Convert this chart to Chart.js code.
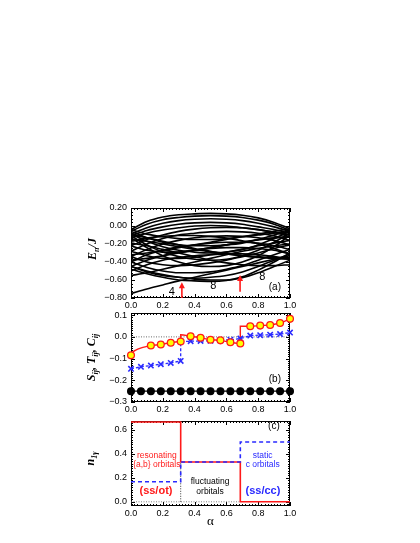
<!DOCTYPE html>
<html><head><meta charset="utf-8">
<script src="https://cdn.jsdelivr.net/npm/chart.js@4.4.0/dist/chart.umd.min.js"></script>
<style>
html,body{margin:0;padding:0;background:#fff;width:420px;height:543px;overflow:hidden}
canvas{position:absolute;left:0;top:0}
</style></head><body>
<canvas id="ca" width="420" height="543"></canvas>
<canvas id="cb" width="420" height="543"></canvas>
<canvas id="cc" width="420" height="543"></canvas>
<script>
// ---------- data: panel (a) spectrum E_n/J vs alpha ----------
const alphaGrid = [0, 0.1, 0.2, 0.3, 0.4, 0.5, 0.6, 0.7, 0.8, 0.9, 1.0];
const upperArches = [
  [-0.04, 0.05, 0.10, 0.125, 0.135, 0.14, 0.135, 0.12, 0.09, 0.04, -0.03],
  [-0.06, 0.02, 0.07, 0.095, 0.11, 0.115, 0.11, 0.095, 0.065, 0.02, -0.05],
  [-0.09, -0.02, 0.03, 0.06, 0.075, 0.08, 0.075, 0.06, 0.03, -0.01, -0.06],
  [-0.11, -0.05, -0.01, 0.02, 0.035, 0.04, 0.035, 0.02, -0.01, -0.04, -0.08],
  [-0.13, -0.08, -0.045, -0.02, 0.00, 0.005, 0.00, -0.02, -0.04, -0.07, -0.10]
];
const lowerArches = [
  [-0.04, -0.09, -0.12, -0.14, -0.15, -0.15, -0.14, -0.12, -0.09, -0.06, -0.03],
  [-0.06, -0.13, -0.18, -0.21, -0.22, -0.22, -0.21, -0.19, -0.15, -0.10, -0.05],
  [-0.09, -0.17, -0.23, -0.27, -0.29, -0.30, -0.29, -0.26, -0.21, -0.14, -0.06],
  [-0.11, -0.21, -0.29, -0.34, -0.37, -0.38, -0.37, -0.33, -0.27, -0.18, -0.08],
  [-0.13, -0.24, -0.33, -0.40, -0.44, -0.45, -0.44, -0.40, -0.33, -0.23, -0.10]
];
const tiltedUpper = [
  [-0.22, -0.15, -0.10, -0.06, -0.035, -0.02, -0.015, -0.02, -0.04, -0.07, -0.12],
  [-0.28, -0.20, -0.14, -0.10, -0.08, -0.065, -0.06, -0.065, -0.08, -0.11, -0.16],
  [-0.34, -0.26, -0.20, -0.16, -0.13, -0.115, -0.11, -0.115, -0.13, -0.16, -0.21],
  [-0.40, -0.32, -0.27, -0.23, -0.21, -0.19, -0.18, -0.18, -0.19, -0.22, -0.26],
  [-0.45, -0.38, -0.33, -0.29, -0.27, -0.25, -0.24, -0.24, -0.25, -0.27, -0.31],
  [-0.50, -0.43, -0.38, -0.35, -0.33, -0.32, -0.31, -0.31, -0.32, -0.34, -0.37]
];
const tiltedLower = [
  [-0.22, -0.27, -0.29, -0.29, -0.27, -0.24, -0.21, -0.18, -0.155, -0.135, -0.12],
  [-0.28, -0.33, -0.36, -0.36, -0.35, -0.32, -0.29, -0.26, -0.22, -0.19, -0.16],
  [-0.34, -0.40, -0.43, -0.44, -0.43, -0.41, -0.38, -0.34, -0.30, -0.25, -0.21],
  [-0.40, -0.46, -0.50, -0.52, -0.52, -0.51, -0.48, -0.44, -0.38, -0.32, -0.26],
  [-0.45, -0.51, -0.55, -0.57, -0.58, -0.57, -0.55, -0.51, -0.45, -0.38, -0.31]
];
const crossingLevels = [
  [-0.15, -0.17, -0.20, -0.23, -0.26, -0.29, -0.31, -0.33, -0.34, -0.35, -0.35],
  [-0.19, -0.22, -0.26, -0.30, -0.34, -0.38, -0.41, -0.43, -0.44, -0.44, -0.43],
  [-0.17, -0.135, -0.115, -0.105, -0.105, -0.115, -0.135, -0.165, -0.20, -0.25, -0.31],
  [-0.10, -0.13, -0.17, -0.21, -0.25, -0.28, -0.31, -0.33, -0.35, -0.36, -0.37],
  [-0.32, -0.30, -0.27, -0.24, -0.21, -0.18, -0.15, -0.12, -0.10, -0.08, -0.07],
  [-0.38, -0.36, -0.33, -0.30, -0.27, -0.24, -0.21, -0.18, -0.15, -0.13, -0.12],
  [-0.55, -0.52, -0.48, -0.44, -0.40, -0.36, -0.32, -0.28, -0.25, -0.22, -0.20]
];
const lowLevels = [
  [-0.75, -0.70, -0.655, -0.61, -0.57, -0.53, -0.49, -0.45, -0.41, -0.37, -0.33],
  [-0.48, -0.53, -0.57, -0.60, -0.61, -0.615, -0.605, -0.565, -0.49, -0.40, -0.30],
  [-0.45, -0.50, -0.54, -0.57, -0.59, -0.60, -0.60, -0.575, -0.52, -0.45, -0.38]
];

// ---------- data: panel (b) S_ij, T_ij, C_ij ----------
const alphaSixteenths = [0, 0.0625, 0.125, 0.1875, 0.25, 0.3125, 0.375, 0.4375, 0.5, 0.5625, 0.625, 0.6875, 0.75, 0.8125, 0.875, 0.9375, 1.0];
const sAlpha = [0, 0.125, 0.1875, 0.25, 0.3125, 0.375, 0.4375, 0.5, 0.5625, 0.625, 0.6875, 0.75, 0.8125, 0.875, 0.9375, 1.0];
const sValues = [-0.085, -0.040, -0.035, -0.027, -0.021, 0.003, -0.004, -0.013, -0.016, -0.025, -0.030, 0.049, 0.052, 0.055, 0.064, 0.083];
const sLineAlpha = [0, 0.01, 0.03, 0.06, 0.1, 0.125, 0.1875, 0.25, 0.3125, 0.3125, 0.375, 0.4375, 0.5, 0.5625, 0.625, 0.6875, 0.6875, 0.75, 0.8125, 0.875, 0.9375, 1.0];
const sLineValues = [-0.085, -0.071, -0.061, -0.052, -0.044, -0.040, -0.035, -0.027, -0.021, 0.010, 0.003, -0.004, -0.013, -0.016, -0.025, -0.030, 0.049, 0.049, 0.052, 0.055, 0.064, 0.083];
const tValues = [-0.147, -0.138, -0.132, -0.126, -0.120, -0.111, -0.020, -0.019, -0.018, -0.016, -0.013, -0.008, 0.006, 0.008, 0.010, 0.013, 0.020];
const tLineAlpha = [0, 0.0625, 0.125, 0.1875, 0.25, 0.3125, 0.3125, 0.375, 0.4375, 0.5, 0.5625, 0.625, 0.6875, 0.75, 0.8125, 0.875, 0.9375, 1.0];
const tLineValues = [-0.147, -0.138, -0.132, -0.126, -0.120, -0.111, -0.022, -0.020, -0.019, -0.018, -0.016, -0.013, -0.008, 0.006, 0.008, 0.010, 0.013, 0.020];
const cValues = [-0.25, -0.25, -0.25, -0.25, -0.25, -0.25, -0.25, -0.25, -0.25, -0.25, -0.25, -0.25, -0.25, -0.25, -0.25, -0.25, -0.25];

// ---------- data: panel (c) n_1gamma ----------
const nAlpha = [0, 0.3125, 0.3125, 0.6875, 0.6875, 1.0];
const nRedValues = [0.667, 0.667, 0.333, 0.333, 0, 0];
const nBlueValues = [0.167, 0.167, 0.333, 0.333, 0.5, 0.5];

// ---------- tick labels ----------
const xTicks = [0, 0.2, 0.4, 0.6, 0.8, 1.0];
const yTicksA = [-0.8, -0.6, -0.4, -0.2, 0.0, 0.2];
const yTicksB = [-0.3, -0.2, -0.1, 0.0, 0.1];
const yTicksC = [0.0, 0.2, 0.4, 0.6];

// ---------- helpers ----------
const pts = (xs, ys) => xs.map((x, i) => ({x, y: ys[i]}));
const RED = '#ff1a1a', BLUE = '#2a2aff', YEL = '#ffff00';
const TICKFONT = {family: '"Liberation Sans", Arial, sans-serif', size: 9};
const fmt = d => v => (v < -1e-9 ? '\u2212' : '') + Math.abs(v).toFixed(d);

function drawTitle(ctx, cx, cy, parts, rotate) {
  const big = 'bold italic 12px "Liberation Serif", "DejaVu Serif", serif';
  const small = 'bold italic 8px "Liberation Serif", "DejaVu Serif", serif';
  let w = 0;
  parts.forEach(p => { ctx.font = p.sub ? small : big; w += ctx.measureText(p.t).width; });
  ctx.save();
  ctx.translate(cx, cy);
  if (rotate) ctx.rotate(-Math.PI / 2);
  ctx.fillStyle = '#000';
  ctx.textBaseline = 'alphabetic';
  ctx.textAlign = 'left';
  let xx = -w / 2;
  parts.forEach(p => {
    ctx.font = p.sub ? small : big;
    ctx.fillText(p.t, xx, p.sub ? 7 : 4);
    xx += ctx.measureText(p.t).width;
  });
  ctx.restore();
}

function framePlugin(spec) {
  return {
    id: 'frame' + spec.name,
    beforeDatasetsDraw(chart) {
      const {ctx, chartArea: a, scales: {x, y}} = chart;
      ctx.save();
      ctx.strokeStyle = '#000';
      ctx.lineWidth = 1;
      ctx.strokeRect(a.left + 0.5, a.top + 0.5, a.right - a.left - 1, a.bottom - a.top - 1);
      ctx.beginPath();
      const xs = (v, len) => {
        const p = Math.round(x.getPixelForValue(v)) + 0.5;
        ctx.moveTo(p, a.bottom); ctx.lineTo(p, a.bottom - len);
        ctx.moveTo(p, a.top); ctx.lineTo(p, a.top + len);
      };
      const ys = (v, len) => {
        const p = Math.round(y.getPixelForValue(v)) + 0.5;
        ctx.moveTo(a.left, p); ctx.lineTo(a.left + len, p);
        ctx.moveTo(a.right, p); ctx.lineTo(a.right - len, p);
      };
      for (let k = 0; k <= 50; k++) xs(k * 0.02, k % 10 === 0 ? 4 : 2);
      const yMin = y.min, yMax = y.max, st = spec.yMinor;
      for (let k = Math.ceil(yMin / st - 1e-6); k <= Math.floor(yMax / st + 1e-6); k++) ys(k * st, 2);
      spec.yMajor.forEach(v => ys(v, 4));
      ctx.stroke();
      ctx.restore();
    },
    afterDraw(chart) {
      const {ctx, chartArea: a, scales: {x, y}} = chart;
      ctx.save();
      spec.texts.forEach(t => {
        ctx.font = t.font;
        ctx.fillStyle = t.color || '#000';
        ctx.textAlign = 'center';
        ctx.textBaseline = 'middle';
        ctx.fillText(t.text, x.getPixelForValue(t.x), y.getPixelForValue(t.y));
      });
      (spec.arrows || []).forEach(ar => {
        const px = x.getPixelForValue(ar.x);
        const y0 = y.getPixelForValue(ar.y0), y1 = y.getPixelForValue(ar.y1);
        ctx.strokeStyle = RED; ctx.fillStyle = RED; ctx.lineWidth = 1.6;
        ctx.beginPath(); ctx.moveTo(px, y0); ctx.lineTo(px, y1 + 5); ctx.stroke();
        ctx.beginPath(); ctx.moveTo(px, y1); ctx.lineTo(px - 3, y1 + 6); ctx.lineTo(px + 3, y1 + 6); ctx.closePath(); ctx.fill();
      });
      drawTitle(ctx, spec.titleX, (a.top + a.bottom) / 2 + spec.titleDy, spec.title, true);
      if (spec.xTitle) {
        ctx.font = '13px "Liberation Serif", "DejaVu Serif", serif';
        ctx.fillStyle = '#000'; ctx.textAlign = 'center'; ctx.textBaseline = 'middle';
        ctx.fillText(spec.xTitle, (a.left + a.right) / 2, a.bottom + 16);
      }
      ctx.restore();
    }
  };
}

function makeOptions(top, bottom, yMin, yMax, yTicks, dec) {
  return {
    responsive: false, animation: false, maintainAspectRatio: false,
    plugins: {legend: {display: false}, tooltip: {enabled: false}},
    layout: {padding: {left: 131 - 60, right: 420 - 290, top: top, bottom: 543 - bottom - 20}},
    scales: {
      x: {
        type: 'linear', min: 0, max: 1,
        afterBuildTicks: s => { s.ticks = xTicks.map(v => ({value: v})); },
        afterFit: s => { s.height = 20; },
        grid: {display: false, drawTicks: false}, border: {display: false},
        ticks: {font: TICKFONT, color: '#000', padding: 2, maxRotation: 0, callback: fmt(1)}
      },
      y: {
        type: 'linear', min: yMin, max: yMax,
        afterBuildTicks: s => { s.ticks = yTicks.map(v => ({value: v})); },
        afterFit: s => { s.width = 60; },
        grid: {display: false, drawTicks: false}, border: {display: false},
        ticks: {font: TICKFONT, color: '#000', padding: 4, callback: fmt(dec)}
      }
    }
  };
}

// ---------- panel (a) ----------
const spectrum = [].concat(upperArches, lowerArches, tiltedUpper, tiltedLower, crossingLevels, lowLevels);
new Chart(document.getElementById('ca'), {
  type: 'line',
  data: {datasets: spectrum.map(c => ({
    data: pts(alphaGrid, c), borderColor: '#000', borderWidth: 1.6, pointRadius: 0,
    cubicInterpolationMode: 'monotone', fill: false
  }))},
  options: makeOptions(208, 298, -0.8, 0.2, yTicksA, 2),
  plugins: [framePlugin({
    name: 'a', yMajor: yTicksA, yMinor: 0.04, titleX: 92, titleDy: -4,
    title: [{t: 'E'}, {t: 'n', sub: true}, {t: '/J'}],
    texts: [
      {text: '4', x: 0.256, y: -0.73, font: '11px "Liberation Sans", Arial, sans-serif'},
      {text: '8', x: 0.518, y: -0.665, font: '11px "Liberation Sans", Arial, sans-serif'},
      {text: '8', x: 0.826, y: -0.565, font: '11px "Liberation Sans", Arial, sans-serif'},
      {text: '(a)', x: 0.905, y: -0.675, font: '10px "Liberation Sans", Arial, sans-serif'}
    ],
    arrows: [{x: 0.32, y0: -0.8, y1: -0.625}, {x: 0.686, y0: -0.73, y1: -0.545}]
  })]
});

// ---------- panel (b) ----------
new Chart(document.getElementById('cb'), {
  type: 'line',
  data: {datasets: [
    {data: pts(sAlpha, sValues), showLine: false, pointRadius: 3.4, pointBackgroundColor: YEL, pointBorderColor: RED, pointBorderWidth: 1.3, clip: false},
    {data: pts(alphaSixteenths, tValues), showLine: false, pointStyle: 'crossRot', pointRadius: 3.8, pointBorderColor: BLUE, pointBorderWidth: 1.6, clip: false},
    {data: pts(alphaSixteenths, cValues), borderColor: '#000', borderWidth: 1.2, pointRadius: 3.4, pointBackgroundColor: '#000', pointBorderColor: '#000', clip: false},
    {data: pts(sLineAlpha, sLineValues), borderColor: RED, borderWidth: 1.4, pointRadius: 0, cubicInterpolationMode: 'monotone'},
    {data: pts(tLineAlpha, tLineValues), borderColor: BLUE, borderWidth: 1.3, borderDash: [3, 2], pointRadius: 0},
    {data: pts([0, 1], [0, 0]), borderColor: '#444', borderWidth: 0.8, borderDash: [1, 1.5], pointRadius: 0}
  ]},
  options: makeOptions(313, 402, -0.3, 0.11, yTicksB, 1),
  plugins: [framePlugin({
    name: 'b', yMajor: yTicksB, yMinor: 0.01, titleX: 91, titleDy: 0,
    title: [{t: 'S'}, {t: 'ij', sub: true}, {t: ', T'}, {t: 'ij', sub: true}, {t: ', C'}, {t: 'ij', sub: true}],
    texts: [{text: '(b)', x: 0.905, y: -0.196, font: '10px "Liberation Sans", Arial, sans-serif'}]
  })]
});

// ---------- panel (c) ----------
const lbl = '8.5px "Liberation Sans", Arial, sans-serif';
const bold = 'bold 11px "Liberation Sans", Arial, sans-serif';
new Chart(document.getElementById('cc'), {
  type: 'line',
  data: {datasets: [
    {data: pts(nAlpha, nBlueValues), borderColor: BLUE, borderWidth: 1.6, borderDash: [4, 3], pointRadius: 0},
    {data: pts(nAlpha, nRedValues), borderColor: RED, borderWidth: 1.6, pointRadius: 0},
    {data: pts([0.3125, 0.3125], [0, 0.333]), borderColor: '#000', borderWidth: 0.8, borderDash: [1, 1.5], pointRadius: 0},
    {data: pts([0, 0.6875], [0, 0]), borderColor: '#666', borderWidth: 0.8, borderDash: [1, 1.5], pointRadius: 0}
  ]},
  options: makeOptions(421, 506, -0.035, 0.675, yTicksC, 1),
  plugins: [framePlugin({
    name: 'c', yMajor: yTicksC, yMinor: 0.02, titleX: 90, titleDy: -5, xTitle: '\u03b1',
    title: [{t: 'n'}, {t: '1\u03b3', sub: true}],
    texts: [
      {text: 'resonating', x: 0.162, y: 0.383, font: lbl, color: RED},
      {text: '{a,b} orbitals', x: 0.162, y: 0.307, font: lbl, color: RED},
      {text: '(ss/ot)', x: 0.157, y: 0.093, font: bold, color: RED},
      {text: 'fluctuating', x: 0.497, y: 0.168, font: lbl, color: '#000'},
      {text: 'orbitals', x: 0.497, y: 0.084, font: lbl, color: '#000'},
      {text: 'static', x: 0.828, y: 0.383, font: lbl, color: BLUE},
      {text: 'c orbitals', x: 0.828, y: 0.307, font: lbl, color: BLUE},
      {text: '(ss/cc)', x: 0.83, y: 0.093, font: bold, color: BLUE},
      {text: '(c)', x: 0.899, y: 0.627, font: '10px "Liberation Sans", Arial, sans-serif'}
    ]
  })]
});
</script></body></html>
